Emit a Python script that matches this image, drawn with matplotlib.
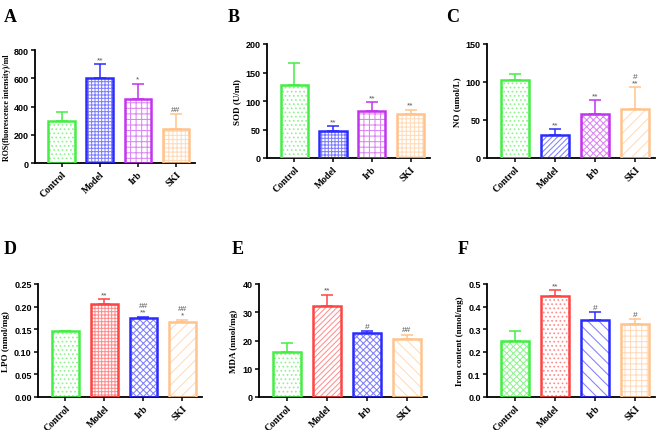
"""
Oxidative stress / ferroptosis markers across treatment groups (panels A-F).
"""

import matplotlib
matplotlib.use("Agg")
import matplotlib.pyplot as plt
from matplotlib.ticker import FormatStrFormatter


GROUPS = ["Control", "Model", "Irb", "SKI"]

ros_mean = [295, 600, 455, 240]
ros_err = [65, 100, 105, 105]
ros_marks = ["", "**", "*", "##"]

sod_mean = [128, 47, 82, 78]
sod_err = [39, 9, 16, 7]
sod_marks = ["", "**", "**", "**"]

no_mean = [102, 30, 58, 64]
no_err = [8, 8, 18, 29]
no_marks = ["", "**", "**", "#\n**"]

lpo_mean = [0.145, 0.206, 0.175, 0.166]
lpo_err = [0.002, 0.010, 0.002, 0.005]
lpo_marks = ["", "**", "##\n**", "##\n*"]

mda_mean = [16.0, 32.3, 22.8, 20.4]
mda_err = [3.2, 3.8, 0.4, 1.7]
mda_marks = ["", "**", "#", "##"]

iron_mean = [0.250, 0.445, 0.340, 0.322]
iron_err = [0.043, 0.028, 0.037, 0.021]
iron_marks = ["", "**", "#", "#"]

GREEN = "#44ee44"
BLUE = "#2b2bff"
PURPLE = "#c433ee"
PEACH = "#ffc38c"
RED = "#ff4444"

W, H = 659, 431
SERIF = "Liberation Serif"
SANS = "Liberation Sans"


def light(color, amount=0.4):
    rgb = matplotlib.colors.to_rgb(color)
    return tuple(c + (1 - c) * amount for c in rgb)


def make_axes(fig, x0, y_top, x1, y_bot):
    return fig.add_axes([x0 / W, 1 - y_bot / H, (x1 - x0) / W, (y_bot - y_top) / H])


def draw_panel(ax, means, errs, marks, colors, hatches, ylabel, ymax, ystep, fmt,
               label_size=6.5):
    x = list(range(len(GROUPS)))
    for i in x:
        ax.bar(i, means[i], width=0.7, color="white", edgecolor=light(colors[i]),
               hatch=hatches[i], linewidth=0, zorder=2)
        ax.bar(i, means[i], width=0.7, color="none", edgecolor=colors[i],
               linewidth=1.8, zorder=3)
        ax.errorbar(i, means[i], yerr=[[0], [errs[i]]], color=colors[i],
                    capsize=4.5, elinewidth=1.1, capthick=1.1, zorder=4)
        if marks[i]:
            ax.text(i, means[i] + errs[i] + ymax * 0.01, marks[i], ha="center",
                    va="bottom", fontsize=6, color="#555555", linespacing=0.9,
                    family=SANS)

    ax.set_xlim(-0.7, 3.5)
    ax.set_ylim(0, ymax)
    ticks = [ystep * k for k in range(int(round(ymax / ystep)) + 1)]
    ax.set_yticks(ticks)
    ax.yaxis.set_major_formatter(FormatStrFormatter(fmt))
    ax.set_xticks(x)
    ax.set_xticklabels(GROUPS, rotation=45, ha="right", rotation_mode="anchor",
                       fontsize=7, fontweight="bold", family=SERIF)
    for lab in ax.get_yticklabels():
        lab.set_fontsize(6.5)
        lab.set_fontweight("bold")
        lab.set_family(SANS)
    ax.set_ylabel(ylabel, fontsize=label_size, fontweight="bold", family=SERIF,
                  labelpad=3)

    for side in ["top", "right"]:
        ax.spines[side].set_visible(False)
    for side in ["left", "bottom"]:
        ax.spines[side].set_linewidth(1.3)
    ax.tick_params(direction="out", length=3, width=1.1, pad=1.5)


def main():
    plt.rcParams["hatch.linewidth"] = 0.75
    fig = plt.figure(figsize=(W / 100, H / 100), dpi=100)

    top_colors = [GREEN, BLUE, PURPLE, PEACH]
    bot_colors = [GREEN, RED, BLUE, PEACH]

    ax = make_axes(fig, 35, 51, 195, 164)
    draw_panel(ax, ros_mean, ros_err, ros_marks, top_colors,
               ["....", "+++++", "+++", "++++"],
               "ROS(fluorescence intensity)/ml", 800, 200, "%d", label_size=5.8)
    ax.yaxis.labelpad = 2

    ax = make_axes(fig, 267, 45, 430, 159)
    draw_panel(ax, sod_mean, sod_err, sod_marks, top_colors,
               ["....", "+++++", "+++", "++++"],
               "SOD (U/ml)", 200, 50, "%d")

    ax = make_axes(fig, 487, 45, 655, 159)
    draw_panel(ax, no_mean, no_err, no_marks, top_colors,
               ["....", "//////", "xxxxx", "///"],
               "NO (umol/L)", 150, 50, "%d")

    ax = make_axes(fig, 38, 285, 202, 398)
    draw_panel(ax, lpo_mean, lpo_err, lpo_marks, bot_colors,
               ["....", "+++++", "xxxxx", "///"],
               "LPO (nmol/mg)", 0.25, 0.05, "%.2f")

    ax = make_axes(fig, 259, 285, 427, 398)
    draw_panel(ax, mda_mean, mda_err, mda_marks, bot_colors,
               ["....", "//////", "xxxxx", "\\\\\\"],
               "MDA (nmol/mg)", 40, 10, "%d")

    ax = make_axes(fig, 487, 285, 655, 398)
    draw_panel(ax, iron_mean, iron_err, iron_marks, bot_colors,
               ["xxxxx", "....", "\\\\\\", "+++"],
               "Iron content (nmol/mg)", 0.5, 0.1, "%.1f")

    letters = [("A", 4, 18), ("B", 228, 18), ("C", 446, 18),
               ("D", 4, 250), ("E", 232, 250), ("F", 458, 250)]
    for letter, px, py in letters:
        fig.text(px / W, 1 - py / H, letter, fontsize=13, fontweight="bold",
                 family=SERIF, va="center", ha="left")

    fig.savefig("out.png", dpi=100)
    plt.close(fig)


if __name__ == "__main__":
    main()
